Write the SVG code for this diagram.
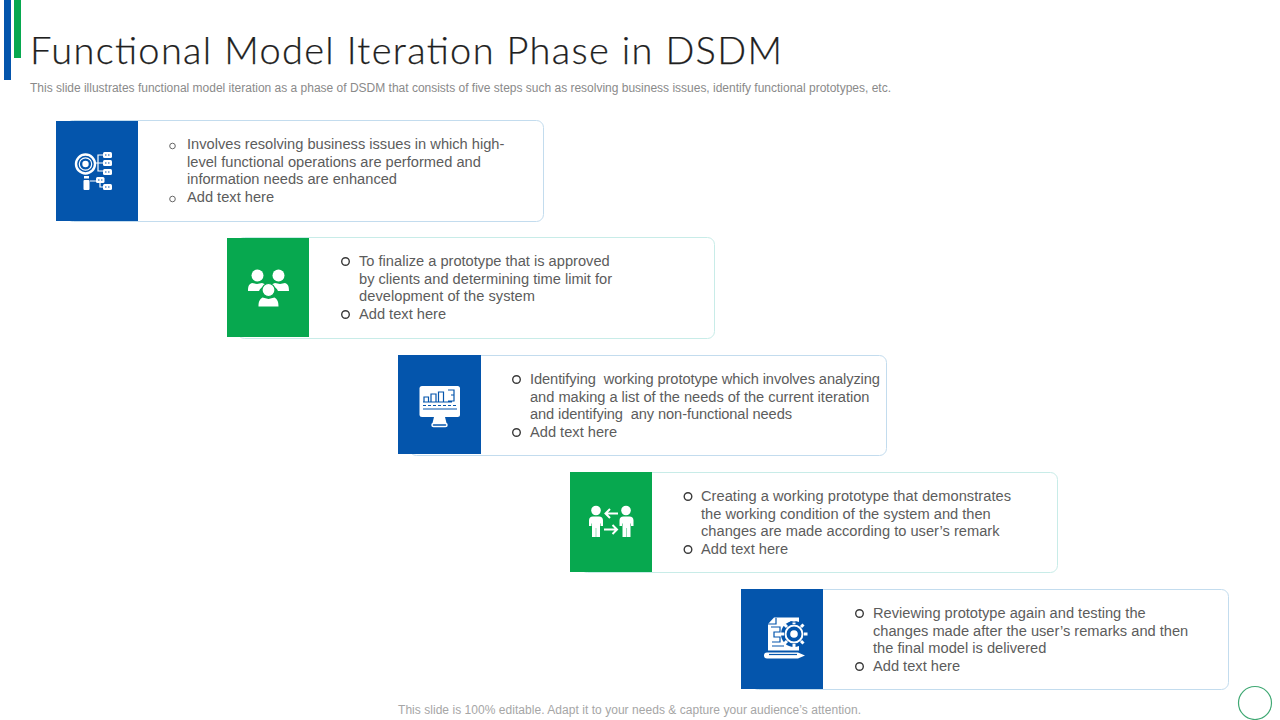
<svg xmlns="http://www.w3.org/2000/svg" width="1280" height="720" viewBox="0 0 1280 720">
<style>
text{font-family:"Liberation Sans",Arial,sans-serif}
.title{font-family:Lato,"Liberation Sans",sans-serif;font-weight:300;font-size:38px;fill:#1f1f1f;stroke:#1f1f1f;stroke-width:.25}
.sub{font-size:12px;fill:#8a8a8a}
.foot{font-size:12px;fill:#a6a6a6}
.b{font-size:14.65px;fill:#5c5c5c;white-space:pre}
.card{fill:#fff;stroke-width:1}
.cb{stroke:#c3dcee}
.cg{stroke:#c8ece8}
.blue{fill:#0455ac}
.green{fill:#07a84f}
.dot{fill:none;stroke:#3a3a3a;stroke-width:1.4}
.dots{fill:none;stroke:#666;stroke-width:1}
.w{fill:#fff}
.l{fill:none;stroke:#fff;stroke-width:2}
.l1{fill:none;stroke:#fff;stroke-width:1.2}
.bl{fill:none;stroke:#0455ac;stroke-width:1.2}
</style>
<rect x="4" y="0" width="7" height="80" class="blue"/>
<rect x="14" y="0" width="7" height="58" class="green"/>
<text class="title" x="30" y="64" textLength="752" lengthAdjust="spacing">Functional Model Iteration Phase in DSDM</text>
<text class="sub" x="30" y="92" textLength="861" lengthAdjust="spacing">This slide illustrates functional model iteration as a phase of DSDM that consists of five steps such as resolving business issues, identify functional prototypes, etc.</text>

<g id="step1">
<rect class="card cb" x="66.500" y="120.500" width="477" height="101" rx="7"/>
<rect class="blue" x="56" y="121" width="82" height="100"/>
<g id="icon1">
<circle cx="85.500" cy="164" r="9.500" fill="none" stroke="#fff" stroke-width="2.400"/><circle class="l1" cx="85.500" cy="164" r="6.200"/><circle class="w" cx="85.500" cy="164" r="3.200"/>
<rect class="w" x="83.500" y="180" width="6" height="10" rx="1"/><rect class="w" x="84" y="176" width="5" height="2.500"/>
<rect class="w" x="103" y="152" width="9" height="6" rx="1.500"/><rect class="w" x="103" y="160" width="9" height="6" rx="1.500"/><rect class="w" x="103" y="169" width="9" height="6" rx="1.500"/>
<rect class="w" x="96" y="177" width="8.500" height="6" rx="1.500"/><rect class="w" x="103" y="184" width="9" height="6" rx="1.500"/>
<path class="l1" d="M96 163h7M103 155h-5v16h5M90 181h6M100 183v4h3"/>
<path class="bl" stroke-dasharray="1.500 1.500" d="M105 155h5M105 163h5M105 172h5M98 180h5M105 187h5"/>
</g>
<circle class="dots" cx="172.500" cy="146" r="2.800"/>
<text class="b" x="187" y="149">Involves resolving business issues in which high-</text>
<text class="b" x="187" y="167">level functional operations are performed and</text>
<text class="b" x="187" y="184">information needs are enhanced</text>
<circle class="dots" cx="172.500" cy="199" r="2.800"/>
<text class="b" x="187" y="202">Add text here</text>
</g>

<g id="step2">
<rect class="card cg" x="237.500" y="237.500" width="477" height="101" rx="7"/>
<rect class="green" x="227" y="238" width="82" height="99"/>
<g id="icon2" class="w">
<circle cx="257.500" cy="275.500" r="6"/><circle cx="278.500" cy="275.500" r="6"/>
<path d="M248 291c0-5 1-7 4-8l5 1 5-1c2 .5 3 1 4 2.500-4 1-6 3-7 5.500zM289 291c0-5-1-7-4-8l-5 1-5-1c-2 .5-3 1-4 2.500 4 1 6 3 7 5.500z"/>
<circle cx="268.500" cy="290" r="6.500" stroke="#07a84f" stroke-width="1.200"/>
<path d="M258.500 306.500c0-5 1-7 4-9l6 1.500 6-1.500c3 2 4 4 4 9z"/>
</g>
<circle class="dot" cx="345.500" cy="261.500" r="3.800"/>
<text class="b" x="359" y="266">To finalize a prototype that is approved</text>
<text class="b" x="359" y="284">by clients and determining time limit for</text>
<text class="b" x="359" y="301" textLength="176">development of the system</text>
<circle class="dot" cx="345.500" cy="314.500" r="3.800"/>
<text class="b" x="359" y="319">Add text here</text>
</g>

<g id="step3">
<rect class="card cb" x="409.500" y="355.500" width="477" height="100" rx="7"/>
<rect class="blue" x="398" y="355" width="83" height="99"/>
<g id="icon3">
<rect class="w" x="419.500" y="386" width="40.500" height="31" rx="2.500"/>
<path class="w" d="M434 417h11l1.500 6h-14z"/>
<rect x="432" y="423.500" width="15" height="3" rx="1.500" fill="#0455ac" stroke="#fff" stroke-width="1.500"/>
<path class="bl" d="M424 402v-5h4.500v5M431 402v-8h5v8M438.500 402v-10h5v10M448 390h6v11h-6M451 395h3M423 402h29M423 409h34"/>
<path class="bl" stroke-dasharray="3 2" d="M423 405.500h34"/>
</g>
<circle class="dot" cx="516.500" cy="379.500" r="3.800"/>
<text class="b" x="530" y="384" textLength="350">Identifying  working prototype which involves analyzing</text>
<text class="b" x="530" y="402" textLength="339.500">and making a list of the needs of the current iteration</text>
<text class="b" x="530" y="419" textLength="262">and identifying  any non-functional needs</text>
<circle class="dot" cx="516.500" cy="432.500" r="3.800"/>
<text class="b" x="530" y="437">Add text here</text>
</g>

<g id="step4">
<rect class="card cg" x="580.500" y="472.500" width="477" height="100" rx="7"/>
<rect class="green" x="570" y="472" width="82" height="100"/>
<g id="icon4">
<circle class="w" cx="596" cy="510.500" r="4.800"/><circle class="w" cx="626" cy="510.500" r="4.800"/>
<path class="w" d="M589 526v-5.500c0-2.500 1.500-4 4-4h6c2.500 0 4 1.500 4 4v5.500h-2.500v-2.500h-.5v13.500h-3.800v-9h-.4v9h-3.800v-13.500h-.5v2.500z"/>
<path class="w" d="M619.500 526v-5.500c0-2.500 1.500-4 4-4h6c2.500 0 4 1.500 4 4v5.500h-2.500v-2.500h-.5v13.500h-3.800v-9h-.4v9h-3.800v-13.500h-.5v2.500z"/>
<path fill="none" stroke="#fff" stroke-width="2" d="M618 513.500h-12M610 509l-4.500 4.500 4.500 4.500M604 529.500h13M612.500 525l4.500 4.500-4.500 4.500"/>
</g>
<circle class="dot" cx="688" cy="496.500" r="3.800"/>
<text class="b" x="701" y="501" textLength="310">Creating a working prototype that demonstrates</text>
<text class="b" x="701" y="519">the working condition of the system and then</text>
<text class="b" x="701" y="536" textLength="298.500">changes are made according to user’s remark</text>
<circle class="dot" cx="688" cy="549.500" r="3.800"/>
<text class="b" x="701" y="554">Add text here</text>
</g>

<g id="step5">
<rect class="card cb" x="751.500" y="589.500" width="477" height="100" rx="7"/>
<rect class="blue" x="741" y="589" width="82" height="100"/>
<g id="icon5">
<path class="w" d="M768 624l6-6.500h25v33h-31z"/>
<path d="M776 618v6h-8" class="bl"/>
<circle cx="794" cy="634" r="13" fill="#0455ac"/>
<path stroke="#fff" stroke-width="3" d="M794 624v-3.500M794 647.500v-3.500M784 634h-3.500M807.500 634h-3.500M787 627l-2.500-2.500M803.500 643.500l-2.500-2.500M787 641l-2.500 2.500M803.500 624.500l-2.500 2.500"/>
<circle class="l" cx="794" cy="634" r="8.500"/><circle class="w" cx="794" cy="634" r="3.800"/>
<path class="bl" d="M771 627h9v5h-6v5h6v5h-8M772 646h12M790 622h6M772 620h0"/>
<path class="w" d="M767 652.500h31l7 3-7 3h-31a3 3 0 0 1 0-6z"/>
<path class="bl" stroke-width="1" d="M769 654.500h28"/>
</g>
<circle class="dot" cx="859.500" cy="613.500" r="3.800"/>
<text class="b" x="873" y="618">Reviewing prototype again and testing the</text>
<text class="b" x="873" y="636">changes made after the user’s remarks and then</text>
<text class="b" x="873" y="653">the final model is delivered</text>
<circle class="dot" cx="859.500" cy="666.500" r="3.800"/>
<text class="b" x="873" y="671">Add text here</text>
</g>

<text class="foot" x="398" y="714" textLength="463" lengthAdjust="spacing">This slide is 100% editable. Adapt it to your needs &amp; capture your audience’s attention.</text>
<circle cx="1255" cy="703" r="16.500" fill="#fff" stroke="#3fa873" stroke-width="1.200"/>
</svg>
